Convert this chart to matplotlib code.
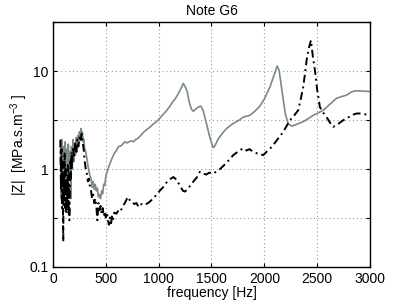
import matplotlib
matplotlib.use("Agg")
import matplotlib.pyplot as plt
from matplotlib.ticker import FixedLocator, NullLocator, FixedFormatter

plt.rcParams["font.family"] = ["Liberation Sans", "DejaVu Sans"]
plt.rcParams["mathtext.fontset"] = "custom"
plt.rcParams["mathtext.rm"] = "Liberation Sans"

# solid grey curve
grey_f = [70, 78, 85, 92, 100, 108, 115, 122, 130, 138, 145, 152, 160, 168, 175, 182,
          190, 198, 205, 212, 220, 228, 235, 242, 250, 258, 265, 271, 278, 285, 292, 300,
          310, 320, 330, 340, 350, 360, 370, 380, 390, 400, 410, 420, 429, 440, 450, 460,
          470, 480, 490, 500, 520, 540, 560, 580, 600, 620, 640, 660, 680, 700, 720, 740,
          760, 780, 800, 830, 860, 890, 920, 950, 980, 1010, 1040, 1070, 1100, 1130, 1160,
          1190, 1215, 1233, 1250, 1270, 1290, 1310, 1328, 1350, 1375, 1400, 1420, 1440,
          1460, 1480, 1500, 1517, 1535, 1560, 1600, 1643, 1700, 1769, 1800, 1864, 1910,
          1958, 2000, 2053, 2090, 2122, 2140, 2170, 2200, 2227, 2258, 2300, 2368, 2420,
          2463, 2510, 2558, 2620, 2684, 2730, 2779, 2820, 2857, 2900, 2950, 3000]
grey_z = [1.9, 0.5, 2.0, 0.7, 1.7, 0.6, 1.9, 0.9, 1.6, 0.55, 1.8, 0.8, 1.5, 0.5, 1.7, 1.0,
          2.0, 1.2, 1.8, 1.4, 2.1, 1.5, 2.2, 1.8, 2.4, 2.0, 2.6, 2.2, 2.4, 1.9, 2.0, 1.6,
          1.5, 1.3, 1.1, 0.95, 0.85, 0.8, 0.65, 0.75, 0.62, 0.7, 0.6, 0.64, 0.52, 0.55, 0.5, 0.6,
          0.56, 0.7, 0.68, 0.85, 1.0, 1.15, 1.3, 1.45, 1.55, 1.7, 1.72, 1.8, 1.9, 1.85, 1.9, 1.95,
          1.9, 2.0, 2.05, 2.2, 2.4, 2.55, 2.7, 2.9, 3.05, 3.3, 3.6, 3.9, 4.3, 4.8, 5.3,
          6.0, 6.8, 7.5, 7.0, 6.2, 4.8, 4.1, 3.9, 4.1, 4.3, 4.4, 4.0, 3.3,
          2.7, 2.2, 1.85, 1.65, 1.75, 2.0, 2.3, 2.6, 2.9, 3.2, 3.4, 3.55, 3.9,
          4.4, 5.2, 6.9, 9.0, 11.3, 10.2, 6.0, 3.6, 2.9, 2.75, 2.85, 3.05, 3.3,
          3.55, 3.75, 4.0, 4.6, 5.3, 5.5, 5.7, 6.1, 6.3, 6.3, 6.25, 6.2]

# dash-dot black curve
black_f = [70, 75, 80, 85, 90, 95, 97, 100, 105, 110, 115, 120, 125, 130, 135, 140, 145,
           150, 155, 160, 165, 170, 175, 180, 190, 200, 210, 220, 230, 240, 250, 260, 271,
           280, 290, 300, 310, 320, 330, 340, 350, 360, 370, 380, 390, 400, 410, 420, 430,
           440, 450, 460, 470, 480, 490, 500, 510, 520, 530, 540, 550, 560, 570, 580, 600,
           620, 640, 660, 680, 700, 713, 730, 750, 770, 790, 810, 823, 840, 860, 880, 900,
           920, 949, 980, 1010, 1040, 1070, 1100, 1139, 1170, 1200, 1230, 1249, 1270, 1300,
           1330, 1360, 1391, 1420, 1450, 1480, 1517, 1549, 1580, 1620, 1660, 1706, 1740,
           1769, 1800, 1830, 1860, 1895, 1930, 1960, 1990, 2020, 2050, 2084, 2130, 2179,
           2210, 2242, 2280, 2321, 2345, 2368, 2385, 2400, 2420, 2441, 2460, 2479, 2500,
           2526, 2555, 2589, 2620, 2652, 2700, 2747, 2800, 2840, 2873, 2920, 2968]
black_z = [2.0, 0.6, 1.6, 0.4, 1.2, 0.3, 0.18, 0.9, 0.5, 1.5, 0.4, 1.0, 0.35, 0.8, 0.5, 1.1, 0.35,
           0.9, 0.3, 0.7, 1.2, 0.8, 1.5, 1.0, 1.7, 1.3, 1.9, 1.5, 2.0, 1.7, 2.1, 1.9, 2.3,
           1.9, 1.6, 1.2, 1.0, 0.9, 0.75, 0.8, 0.65, 0.6, 0.5, 0.55, 0.45, 0.5, 0.42, 0.3, 0.45,
           0.38, 0.42, 0.35, 0.4, 0.33, 0.37, 0.32, 0.36, 0.3, 0.27, 0.32, 0.28, 0.34, 0.31, 0.36, 0.35,
           0.38, 0.37, 0.42, 0.45, 0.5, 0.52, 0.47, 0.46, 0.44, 0.45, 0.41, 0.43, 0.44, 0.43, 0.44, 0.45,
           0.47, 0.5, 0.55, 0.6, 0.65, 0.72, 0.78, 0.83, 0.78, 0.68, 0.6, 0.59, 0.62, 0.68,
           0.75, 0.82, 0.94, 0.9, 0.88, 0.92, 0.9, 0.95, 1.0, 1.1, 1.22, 1.39, 1.48,
           1.56, 1.63, 1.55, 1.6, 1.5, 1.45, 1.42, 1.39, 1.5, 1.6, 1.76, 2.05, 2.4,
           2.75, 3.16, 3.5, 4.0, 5.2, 6.9, 9.5, 12.9, 17.0, 20.7, 14.0, 10.2, 6.5,
           4.3, 3.8, 3.4, 3.0, 2.7, 2.9, 3.16, 3.4, 3.6, 3.7, 3.7, 3.6]

x_ticks = [0, 500, 1000, 1500, 2000, 2500, 3000]
y_ticks = [0.1, 10 ** -0.5, 1, 10 ** 0.5, 10, 10 ** 1.5]
y_labels = ["0.1", "", "1", "", "10", ""]

fig = plt.figure(figsize=(4.09, 3.0), dpi=100)
ax = fig.add_axes([0.1296, 0.11, 0.775, 0.8157])

ax.plot(grey_f, grey_z, color="#7a8a84", lw=1.2)
ax.plot(black_f, black_z, color="black", lw=1.4, ls=(0, (4, 2, 1, 2)))

ax.set_yscale("log")
ax.set_xlim(0, 3000)
ax.set_ylim(0.1, 10 ** 1.5)
ax.xaxis.set_major_locator(FixedLocator(x_ticks))
ax.yaxis.set_major_locator(FixedLocator(y_ticks))
ax.yaxis.set_major_formatter(FixedFormatter(y_labels))
ax.yaxis.set_minor_locator(NullLocator())

ax.grid(True, which="major", ls=(0, (1, 2.5)), color="#9a9a9a", lw=0.8)
ax.tick_params(direction="in", top=True, right=True, labelsize=10, length=3)
for s in ax.spines.values():
    s.set_linewidth(1.0)

ax.set_title("Note G6", fontsize=10, pad=5)
ax.set_xlabel("frequency [Hz]", fontsize=10, labelpad=0)
ax.set_ylabel("|Z|  [MPa.s.m$^{-3}$ ]", fontsize=10, labelpad=-1)

fig.savefig("out.png", dpi=100)
